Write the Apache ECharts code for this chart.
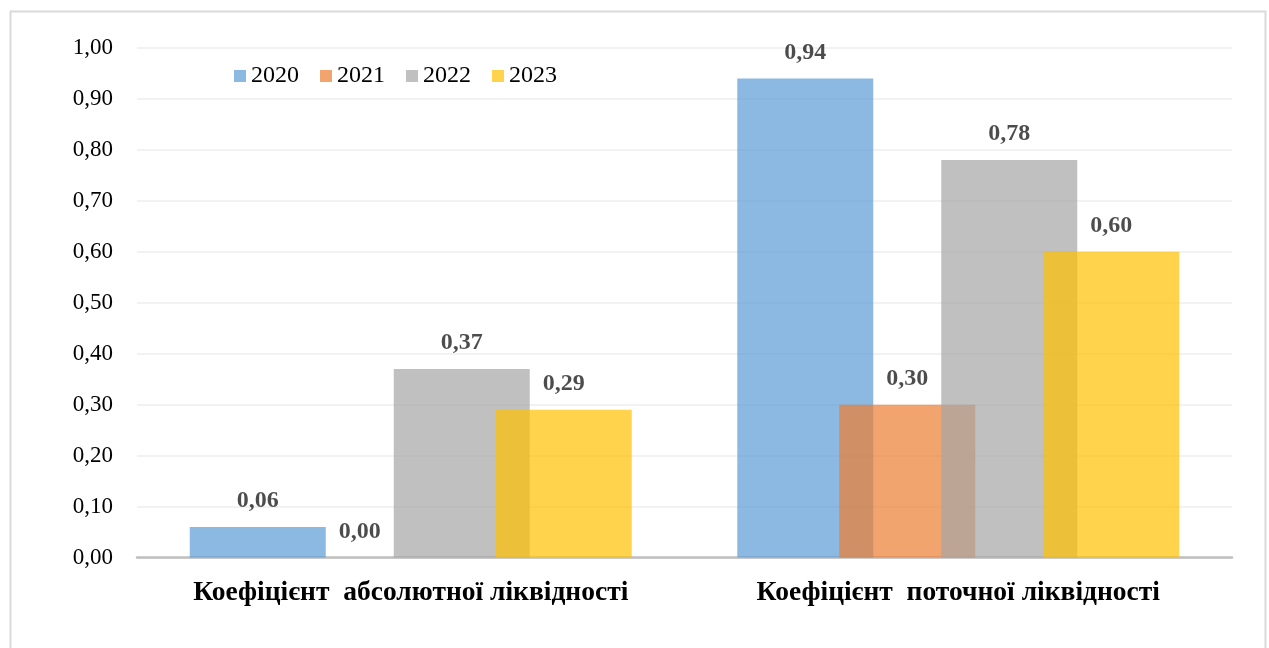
<!DOCTYPE html>
<html>
<head>
<meta charset="utf-8">
<script src="https://cdn.jsdelivr.net/npm/echarts@6/dist/echarts.min.js"></script>
<style>
html,body{margin:0;padding:0;background:#fff;}
#chart{width:1269px;height:648px;}
</style>
</head>
<body>
<div id="chart"></div>
<script>
const categories = ['Коефіцієнт  абсолютної ліквідності', 'Коефіцієнт  поточної ліквідності'];
const years = ['2020', '2021', '2022', '2023'];
const values2020 = [0.06, 0.94];
const values2021 = [0.00, 0.30];
const values2022 = [0.37, 0.78];
const values2023 = [0.29, 0.60];
const colors = ['#5B9BD5', '#ED7D31', '#A5A5A5', '#FFC000'];

const seriesValues = [values2020, values2021, values2022, values2023];
const fmt = v => Number(v).toFixed(2).replace('.', ',');
const FONT = '"Liberation Serif", "Times New Roman", serif';

const chart = echarts.init(document.getElementById('chart'));
chart.setOption({
  animation: false,
  backgroundColor: '#fff',
  textStyle: { fontFamily: FONT },
  graphic: [{
    type: 'rect', left: 8, top: 9, silent: true,
    shape: { width: 1255, height: 660 },
    style: { fill: 'none', stroke: '#d9d9d9', lineWidth: 2 }
  }],
  legend: {
    left: 234, top: 64, padding: 0,
    itemWidth: 12, itemHeight: 12, itemGap: 21,
    icon: 'rect',
    textStyle: { fontFamily: FONT, fontSize: 24, color: '#000' },
    data: years
  },
  grid: { left: 137, right: 37, top: 48, bottom: 90.5 },
  xAxis: {
    type: 'category', data: categories,
    axisTick: { show: false },
    axisLine: { lineStyle: { color: '#bfbfbf', width: 2.5 } },
    axisLabel: { interval: 0, hideOverlap: false, fontFamily: FONT, fontSize: 27.5, fontWeight: 'bold', color: '#000', margin: 21 }
  },
  yAxis: {
    type: 'value', min: 0, max: 1, interval: 0.1,
    axisLine: { show: false }, axisTick: { show: false },
    splitLine: { lineStyle: { color: '#eeeeee', width: 1.5 } },
    axisLabel: { fontFamily: FONT, fontSize: 23, color: '#000', margin: 24, formatter: fmt }
  },
  series: years.map((y, i) => ({
    name: y, type: 'bar', data: seriesValues[i],
    barWidth: 136, barGap: '-25%',
    itemStyle: { color: colors[i], opacity: 0.7 },
    label: {
      show: true, position: 'top', distance: 14,
      fontFamily: FONT, fontSize: 24, fontWeight: 'bold', color: '#000',
      formatter: p => fmt(p.value)
    }
  }))
});
</script>
</body>
</html>
